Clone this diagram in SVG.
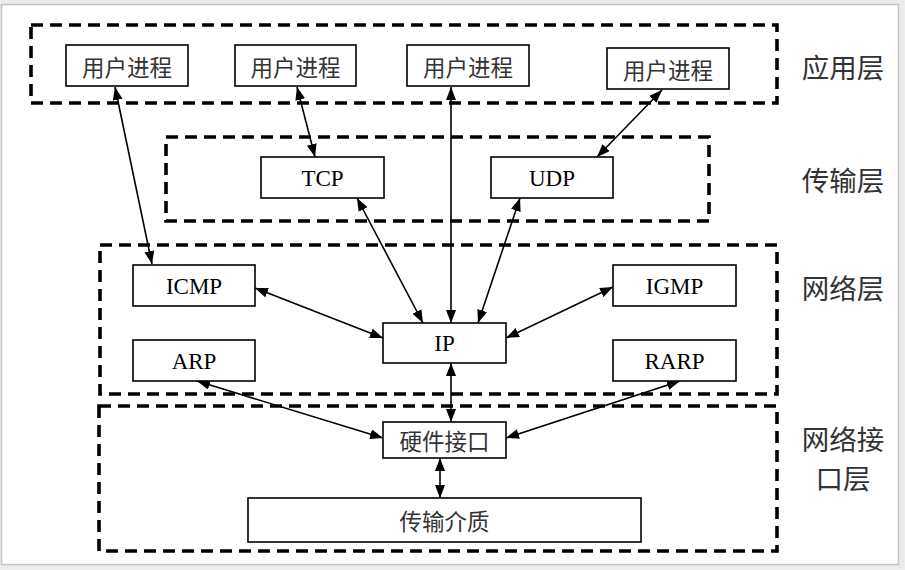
<svg xmlns="http://www.w3.org/2000/svg" width="905" height="570" viewBox="0 0 905 570">
<defs>
<style>
.box{fill:#fff;stroke:#000;stroke-width:1.6}
.layer{fill:none;stroke:#000;stroke-width:3.6;stroke-dasharray:12 7}
.en{font-family:"Liberation Serif","Times New Roman",serif;font-size:23px;fill:#000;text-anchor:middle;dominant-baseline:central}
.zh{font-family:"Noto Sans CJK SC","Noto Sans CJK TC",sans-serif;font-size:22.5px;fill:#333;text-anchor:middle;dominant-baseline:central}
.lab{font-family:"Noto Sans CJK SC","Noto Sans CJK TC",sans-serif;font-size:27.5px;fill:#333;text-anchor:middle;dominant-baseline:central}
.con{stroke:#000;stroke-width:1.6;fill:none;marker-start:url(#ah);marker-end:url(#ah)}
</style>
<marker id="ah" viewBox="0 0 13 10" refX="13" refY="5" markerWidth="13" markerHeight="10" markerUnits="userSpaceOnUse" orient="auto-start-reverse">
<path d="M0,0 L13,5 L0,10 z" fill="#000"/>
</marker>
</defs>
<rect x="0" y="0" width="905" height="570" fill="#ececec"/>
<rect x="1.5" y="4.5" width="897" height="560" fill="#fff" stroke="#c4c4c4" stroke-width="1.5"/>

<g id="layers">
<rect class="layer" x="31" y="25" width="746" height="78"/>
<rect class="layer" x="166" y="137" width="543" height="84"/>
<rect class="layer" x="100" y="245" width="677" height="149"/>
<rect class="layer" x="99" y="406" width="678" height="145"/>
</g>

<g id="layer-labels">
<text class="lab" x="843" y="66">应用层</text>
<text class="lab" x="843" y="179">传输层</text>
<text class="lab" x="843" y="287">网络层</text>
<text class="lab" x="843" y="438">网络接</text>
<text class="lab" x="843" y="477">口层</text>
</g>

<g id="connectors">
<line class="con" x1="115" y1="87" x2="152" y2="264"/>
<line class="con" x1="297" y1="87" x2="315" y2="157"/>
<line class="con" x1="451" y1="87" x2="451" y2="323"/>
<line class="con" x1="662" y1="90" x2="597" y2="157"/>
<line class="con" x1="357" y1="198" x2="423" y2="323"/>
<line class="con" x1="520" y1="198" x2="478" y2="323"/>
<line class="con" x1="255" y1="288" x2="383" y2="338"/>
<line class="con" x1="613" y1="287" x2="506" y2="338"/>
<line class="con" x1="197" y1="381" x2="383" y2="438"/>
<line class="con" x1="680" y1="381" x2="506" y2="438"/>
<line class="con" x1="451" y1="363" x2="451" y2="422"/>
<line class="con" x1="440" y1="458" x2="440" y2="498"/>
</g>

<g id="up1"><rect class="box" x="66" y="45" width="122" height="41"/><text class="zh" x="127" y="66">用户进程</text></g>
<g id="up2"><rect class="box" x="235" y="45" width="121" height="41"/><text class="zh" x="295.5" y="66">用户进程</text></g>
<g id="up3"><rect class="box" x="407" y="45" width="122" height="41"/><text class="zh" x="468" y="66">用户进程</text></g>
<g id="up4"><rect class="box" x="607" y="48" width="122" height="41"/><text class="zh" x="668" y="69">用户进程</text></g>
<g id="tcp"><rect class="box" x="261" y="157" width="123" height="41"/><text class="en" x="322.5" y="178">TCP</text></g>
<g id="udp"><rect class="box" x="491" y="157" width="122" height="41"/><text class="en" x="552" y="178">UDP</text></g>
<g id="icmp"><rect class="box" x="133" y="265" width="122" height="41"/><text class="en" x="194" y="286">ICMP</text></g>
<g id="arp"><rect class="box" x="133" y="340" width="122" height="41"/><text class="en" x="194" y="361">ARP</text></g>
<g id="ip"><rect class="box" x="383" y="323" width="123" height="40"/><text class="en" x="444.5" y="343.5">IP</text></g>
<g id="igmp"><rect class="box" x="613" y="265" width="123" height="41"/><text class="en" x="674.5" y="286">IGMP</text></g>
<g id="rarp"><rect class="box" x="613" y="340" width="123" height="41"/><text class="en" x="674.5" y="361">RARP</text></g>
<g id="hw"><rect class="box" x="383" y="422" width="123" height="36"/><text class="zh" x="444.5" y="440">硬件接口</text></g>
<g id="medium"><rect class="box" x="248" y="498" width="393" height="44"/><text class="zh" x="444.5" y="520">传输介质</text></g>
</svg>
